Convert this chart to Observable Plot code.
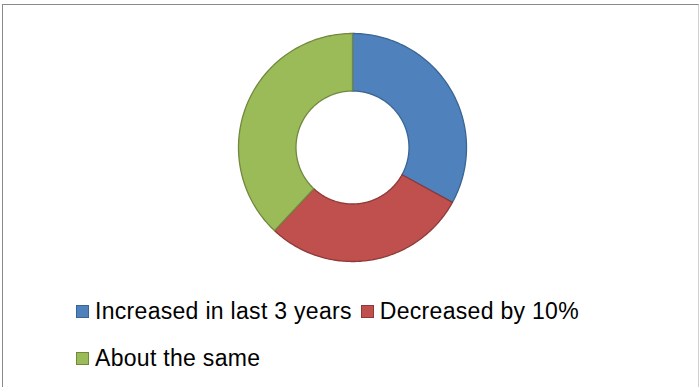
<!DOCTYPE html>
<html>
<head>
<meta charset="utf-8">
<script src="https://cdn.jsdelivr.net/npm/d3@7"></script>
<script src="https://cdn.jsdelivr.net/npm/@observablehq/plot@0.6"></script>
<style>
  html, body { margin: 0; padding: 0; background: #fff; }
  #wrap { position: relative; width: 700px; height: 387px; overflow: hidden; font-family: "Liberation Sans", Arial, sans-serif; }
  #frame { position: absolute; left: 2px; top: 4px; width: 697px; height: 400px; border: 1.5px solid #8a8a8a; border-right-color: #d0d0d0; box-sizing: border-box; }
  #chart { position: absolute; left: 0; top: 0; }
  #legend { position: absolute; left: 76px; top: 288px; width: 530px; display: flex; flex-wrap: wrap; column-gap: 9px; }
  .item { display: flex; align-items: center; height: 47px; line-height: 47px; font-size: 23px; letter-spacing: 0.3px; color: #000; }
  .sw { width: 11px; height: 11px; border: 1px solid; margin-right: 6px; flex: none; }
</style>
</head>
<body>
<div id="wrap">
  <div id="frame"></div>
  <div id="chart"></div>
  <div id="legend"></div>
</div>
<script>
const categories = ["Increased in last 3 years", "Decreased by 10%", "About the same"];
const values = [33, 29, 38];
const fills = ["#4F81BD", "#C0504D", "#9BBB59"];
const strokes = ["#3A6593", "#8E3A38", "#71893F"];

const outerR = 114;
const innerR = 56.5;

const rows = categories.map((c, i) => ({category: c, value: values[i]}));
const arcs = d3.pie().sort(null).value(d => d.value)(rows);

// outline of each slice, sampled along the arcs (geometry only)
function slicePoints(a) {
  const pts = [];
  const n = 120;
  for (let k = 0; k <= n; k++) {
    const t = a.startAngle + (a.endAngle - a.startAngle) * k / n;
    pts.push({category: a.data.category, x: outerR * Math.sin(t), y: outerR * Math.cos(t)});
  }
  for (let k = n; k >= 0; k--) {
    const t = a.startAngle + (a.endAngle - a.startAngle) * k / n;
    pts.push({category: a.data.category, x: innerR * Math.sin(t), y: innerR * Math.cos(t)});
  }
  return pts;
}

const W = 700, H = 280, cx = 352, cy = 147;

const marks = arcs.map((a, i) =>
  Plot.line(slicePoints(a), {
    x: "x", y: "y",
    fill: fills[i], stroke: strokes[i], strokeWidth: 1.3,
    curve: "linear-closed"
  })
);

const chart = Plot.plot({
  width: W, height: H,
  margin: 0,
  x: {domain: [-cx, W - cx], range: [0, W], axis: null},
  y: {domain: [cy - H, cy], range: [H, 0], axis: null},
  style: {background: "transparent"},
  marks
});
document.getElementById("chart").appendChild(chart);

const legend = document.getElementById("legend");
categories.forEach((c, i) => {
  const item = document.createElement("div");
  item.className = "item";
  const sw = document.createElement("span");
  sw.className = "sw";
  sw.style.background = fills[i];
  sw.style.borderColor = strokes[i];
  const label = document.createElement("span");
  label.textContent = c;
  item.appendChild(sw);
  item.appendChild(label);
  legend.appendChild(item);
});
</script>
</body>
</html>
